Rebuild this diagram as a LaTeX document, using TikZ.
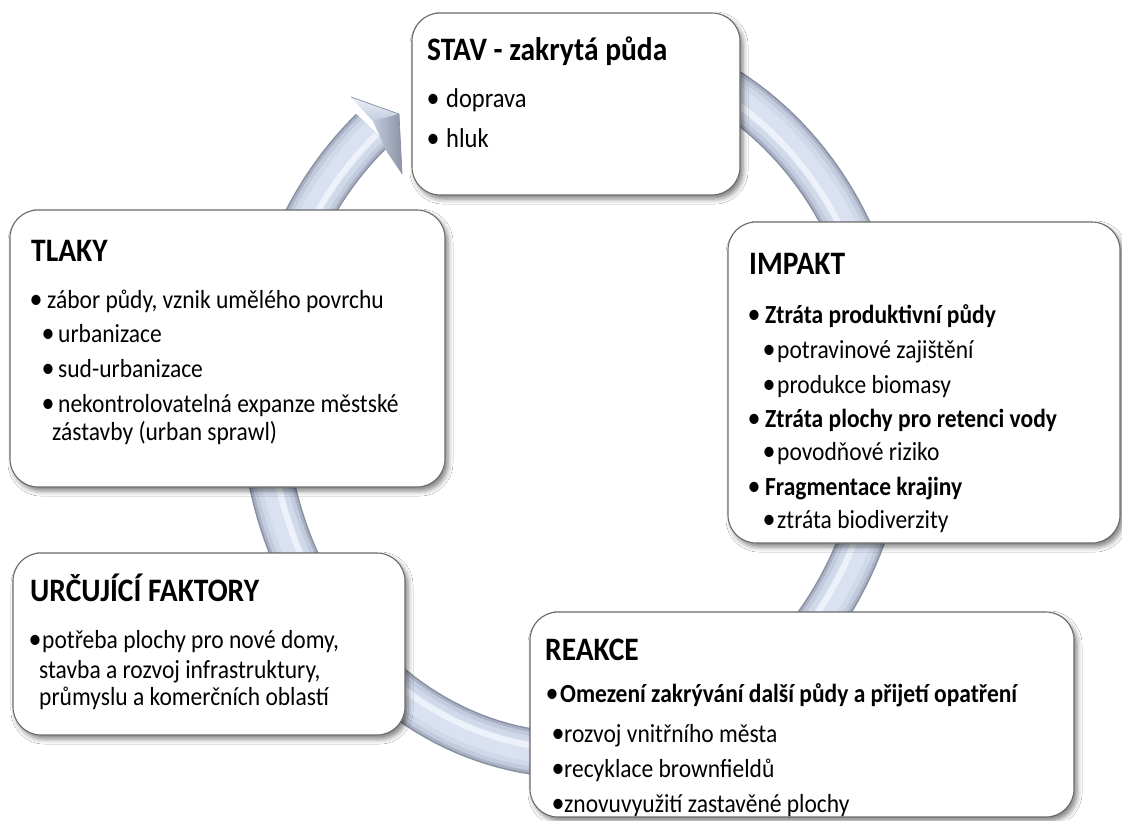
\documentclass[tikz,border=0pt]{standalone}
\usepackage{fontspec}
\usepackage{graphicx}
\setmainfont{Carlito}
\usetikzlibrary{shadows.blur}
\definecolor{ringA}{HTML}{878FA1}
\definecolor{ringB}{HTML}{A9B2C4}
\definecolor{ringC}{HTML}{C2CBDD}
\definecolor{ringD}{HTML}{D0D9EA}
\definecolor{ringE}{HTML}{DAE2F1}
\definecolor{ringF}{HTML}{EDF1F9}
\definecolor{headS}{HTML}{8C94A6}
\definecolor{boxline}{HTML}{6A6A6A}
\newcommand{\vs}[1]{\scalebox{1}[1.11]{#1}}
\tikzset{
  box/.style={draw=boxline, line width=1.1pt, fill=white, rounded corners=28pt, inner sep=0pt,
    blur shadow={shadow xshift=3pt, shadow yshift=-4pt, shadow blur radius=5pt, shadow opacity=50}},
  ttl/.style={anchor=base west, inner sep=0pt, font=\fontsize{29.5}{35}\selectfont\bfseries},
  txt/.style={anchor=base west, inner sep=0pt, font=\fontsize{23.5}{28}\selectfont},
  txtb/.style={anchor=base west, inner sep=0pt, font=\fontsize{23.5}{28}\selectfont\bfseries},
  txtl/.style={anchor=base west, inner sep=0pt, font=\fontsize{24.5}{29}\selectfont},
  bul/.style={anchor=base, inner sep=0pt, font=\fontsize{26}{28}\selectfont},
}
\begin{document}
\begin{tikzpicture}[x=1pt,y=-1pt]
\useasboundingbox (0,0) rectangle (1122,820);
\fill[white] (0,0) rectangle (1122,820);

% ---- circular ring arrow ----
\foreach \w/\c in {46/ringA,43/ringB,38/ringC,30/ringD,20/ringE}
  \draw[line width=\w pt, color=\c] plot[domain=-229.5:70, samples=160]
     ({575+312*cos(\x)},{400-355*sin(\x)});
\draw[line width=6pt, color=ringF] plot[domain=-229.5:70, samples=160]
     ({575+306*cos(\x)},{400-349*sin(\x)});
% arrow head
\coordinate (h1) at (351,97);
\coordinate (h2) at (399,114);
\coordinate (h3) at (402,174);
\coordinate (hn) at (373,121);
\coordinate (hi) at (387,152);
\fill[ringC] (h1) -- (h2) -- (h3) -- (hi) -- (hn) -- cycle;
\shade[top color=ringF, bottom color=ringC] (h1) -- (h2) -- (hn) -- cycle;
\shade[left color=ringC, right color=headS] (hn) -- (h2) -- (h3) -- (hi) -- cycle;
\draw[ringA, line width=0.7pt, line join=round] (h1) -- (h2) -- (h3);

% ---- boxes ----
\node[box, minimum width=328pt, minimum height=182pt] (stav) at (576,104) {};
\node[box, minimum width=435pt, minimum height=277pt] (tlaky) at (227.5,348.5) {};
\node[box, minimum width=392pt, minimum height=321pt] (impakt) at (924,382.5) {};
\node[box, minimum width=392pt, minimum height=182pt] (urc) at (209,644) {};
\node[box, minimum width=544pt, minimum height=205pt] (reakce) at (802,714.5) {};

% ---- STAV ----
\node[ttl] (s0) at (427,60) {\vs{STAV - zakrytá půda}};
\node[bul] (s1b) at (433,107) {\vs{•}};
\node[txtl] (s1) at (446,107) {\vs{doprava}};
\node[bul] (s2b) at (433,147) {\vs{•}};
\node[txtl] (s2) at (446,147) {\vs{hluk}};

% ---- TLAKY ----
\node[ttl] (t0) at (31,261) {\vs{TLAKY}};
\node[bul] (t1b) at (36,308) {\vs{•}};
\node[txt] (t1) at (47,308) {\vs{zábor půdy, vznik umělého povrchu}};
\node[bul] (t2b) at (48,342) {\vs{•}};
\node[txt] (t2) at (58,342) {\vs{urbanizace}};
\node[bul] (t3b) at (48,377) {\vs{•}};
\node[txt] (t3) at (58,377) {\vs{sud-urbanizace}};
\node[bul] (t4b) at (48,412) {\vs{•}};
\node[txt] (t4) at (58,412) {\vs{nekontrolovatelná expanze městské}};
\node[txt] (t5) at (52,440) {\vs{zástavby (urban sprawl)}};

% ---- IMPAKT ----
\node[ttl] (i0) at (749,274) {\vs{IMPAKT}};
\node[bul] (i1b) at (754,323) {\vs{•}};
\node[txtb] (i1) at (765,323) {\vs{Ztráta produktivní půdy}};
\node[bul] (i2b) at (769,358) {\vs{•}};
\node[txt] (i2) at (777,358) {\vs{potravinové zajištění}};
\node[bul] (i3b) at (769,393) {\vs{•}};
\node[txt] (i3) at (777,393) {\vs{produkce biomasy}};
\node[bul] (i4b) at (754,427) {\vs{•}};
\node[txtb] (i4) at (765,427) {\vs{Ztráta plochy pro retenci vody}};
\node[bul] (i5b) at (769,460) {\vs{•}};
\node[txt] (i5) at (777,460) {\vs{povodňové riziko}};
\node[bul] (i6b) at (754,495) {\vs{•}};
\node[txtb] (i6) at (765,495) {\vs{Fragmentace krajiny}};
\node[bul] (i7b) at (769,528) {\vs{•}};
\node[txt] (i7) at (777,528) {\vs{ztráta biodiverzity}};

% ---- URCUJICI FAKTORY ----
\node[ttl] (u0) at (30,601) {\vs{URČUJÍCÍ FAKTORY}};
\node[bul] (u1b) at (35,648) {\vs{•}};
\node[txt] (u1) at (42,648) {\vs{potřeba plochy pro nové domy,}};
\node[txt] (u2) at (39,678) {\vs{stavba a rozvoj infrastruktury,}};
\node[txt] (u3) at (39,705) {\vs{průmyslu a komerčních oblastí}};

% ---- REAKCE ----
\node[ttl] (r0) at (545,660) {\vs{REAKCE}};
\node[bul] (r1b) at (552,702) {\vs{•}};
\node[txtb] (r1) at (560,702) {\vs{Omezení zakrývání další půdy a přijetí opatření}};
\node[bul] (r2b) at (558,742) {\vs{•}};
\node[txt] (r2) at (564,742) {\vs{rozvoj vnitřního města}};
\node[bul] (r3b) at (558,777) {\vs{•}};
\node[txt] (r3) at (564,777) {\vs{recyklace brownfieldů}};
\node[bul] (r4b) at (558,812) {\vs{•}};
\node[txt] (r4) at (564,812) {\vs{znovuvyužití zastavěné plochy}};
\end{tikzpicture}
\end{document}
